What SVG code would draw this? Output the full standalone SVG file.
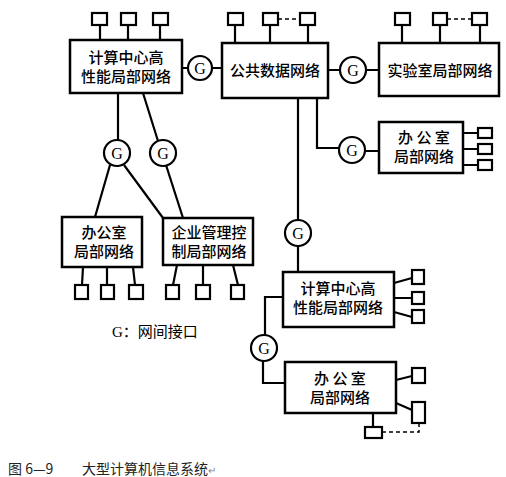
<svg xmlns="http://www.w3.org/2000/svg" width="506" height="477" viewBox="0 0 506 477">
<style>
.box{fill:#fff;stroke:#000;stroke-width:2.5}
.term{fill:#fff;stroke:#000;stroke-width:2.2}
.g{fill:#fff;stroke:#000;stroke-width:2.2}
.ln{fill:none;stroke:#000;stroke-width:2.2}
.dash{fill:none;stroke:#000;stroke-width:1.5;stroke-dasharray:4 3}
.t{font-family:"Noto Sans CJK SC","Noto Sans",sans-serif;font-size:15px;font-weight:500;fill:#000;text-anchor:middle}
.gt{font-family:"Liberation Serif",serif;font-size:16px;fill:#000;text-anchor:middle}
.cap{font-family:"Noto Sans CJK SC","Liberation Sans",sans-serif;font-size:14px;fill:#222}
</style>
<rect width="506" height="477" fill="#fff"/>
<g id="connectors">
<path class="ln" d="M100,25V40M128,25V40M160,25V40"/>
<path class="ln" d="M235,25V43M270,25V43M308,25V43"/>
<path class="dash" d="M278,19H300"/>
<path class="ln" d="M402,25V43M440,25V43M480,25V43"/>
<path class="dash" d="M447,19H472"/>
<path class="ln" d="M182,68H188M212,68H222M328,70H340M366,70H379"/>
<path class="ln" d="M118,93V140M143,93L158,141"/>
<path class="ln" d="M110,165L95,217M124,165L163,218"/>
<path class="ln" d="M166,165L183,218"/>
<path class="ln" d="M83,267L82,285M107,267V285M133,267L135,285M177,265L173,285M203,265V285M233,265L238,285"/>
<path class="ln" d="M298,98V220M298,246V272"/>
<path class="ln" d="M317,98V148H339M365,151H379"/>
<path class="ln" d="M463,133H478M463,149H478M463,165H478"/>
<path class="ln" d="M394,283L412,278M394,298H412M394,312L412,317"/>
<path class="ln" d="M283,297H265V335M263,361V383H285"/>
<path class="ln" d="M396,380L412,376M396,403L412,410M373,413V427"/>
<path class="dash" d="M419,423V432H382"/>
</g>
<g id="terminals">
<rect class="term" x="92" y="13" width="15" height="12"/>
<rect class="term" x="121" y="13" width="15" height="12"/>
<rect class="term" x="153" y="13" width="15" height="12"/>
<rect class="term" x="228" y="13" width="15" height="12"/>
<rect class="term" x="263" y="13" width="15" height="12"/>
<rect class="term" x="300" y="13" width="15" height="12"/>
<rect class="term" x="395" y="13" width="15" height="12"/>
<rect class="term" x="433" y="13" width="14" height="12"/>
<rect class="term" x="472" y="13" width="15" height="12"/>
<rect class="term" x="478" y="128" width="14" height="10"/>
<rect class="term" x="478" y="144" width="14" height="10"/>
<rect class="term" x="478" y="160" width="14" height="10"/>
<rect class="term" x="75" y="285" width="13" height="14"/>
<rect class="term" x="101" y="285" width="13" height="14"/>
<rect class="term" x="129" y="285" width="14" height="14"/>
<rect class="term" x="166" y="285" width="13" height="14"/>
<rect class="term" x="196" y="285" width="14" height="14"/>
<rect class="term" x="231" y="285" width="13" height="14"/>
<rect class="term" x="412" y="270" width="12" height="14"/>
<rect class="term" x="412" y="292" width="12" height="12"/>
<rect class="term" x="412" y="310" width="12" height="13"/>
<rect class="term" x="412" y="368" width="13" height="15"/>
<rect class="term" x="412" y="402" width="13" height="21"/>
<rect class="term" x="365" y="427" width="17" height="11"/>
</g>
<g id="n-topleft">
<rect class="box" x="70" y="40" width="112" height="53"/>
<text class="t" x="126" y="63">计算中心高</text>
<text class="t" x="126" y="82">性能局部网络</text>
</g>
<g id="n-public">
<rect class="box" x="222" y="43" width="106" height="55"/>
<text class="t" x="275" y="76">公共数据网络</text>
</g>
<g id="n-lab">
<rect class="box" x="379" y="43" width="120" height="53"/>
<text class="t" x="440" y="76">实验室局部网络</text>
</g>
<g id="n-office-right">
<rect class="box" x="379" y="122" width="84" height="51"/>
<text class="t" x="424" y="143">办 公 室</text>
<text class="t" x="424" y="162">局部网络</text>
</g>
<g id="n-office-left">
<rect class="box" x="62" y="217" width="80" height="50"/>
<text class="t" x="104" y="238">办公室</text>
<text class="t" x="104" y="257">局部网络</text>
</g>
<g id="n-enterprise">
<rect class="box" x="163" y="218" width="90" height="47"/>
<text class="t" x="209" y="238">企业管理控</text>
<text class="t" x="209" y="257">制局部网络</text>
</g>
<g id="n-cc-lower">
<rect class="box" x="283" y="272" width="111" height="55"/>
<text class="t" x="338" y="294">计算中心高</text>
<text class="t" x="338" y="313">性能局部网络</text>
</g>
<g id="n-office-lower">
<rect class="box" x="285" y="362" width="111" height="51"/>
<text class="t" x="340" y="384">办 公 室</text>
<text class="t" x="340" y="403">局部网络</text>
</g>
<g id="gateways">
<g id="g-top-left"><circle class="g" cx="200" cy="68" r="12"/><text class="gt" x="200" y="74">G</text></g>
<g id="g-top-right"><circle class="g" cx="353" cy="70" r="13"/><text class="gt" x="353" y="76">G</text></g>
<g id="g-office-right"><circle class="g" cx="352" cy="150" r="13"/><text class="gt" x="352" y="156">G</text></g>
<g id="g-left1"><circle class="g" cx="117" cy="153" r="13"/><text class="gt" x="117" y="159">G</text></g>
<g id="g-left2"><circle class="g" cx="163" cy="153" r="13"/><text class="gt" x="163" y="159">G</text></g>
<g id="g-mid"><circle class="g" cx="298" cy="233" r="13"/><text class="gt" x="298" y="239">G</text></g>
<g id="g-lower"><circle class="g" cx="264" cy="348" r="13"/><text class="gt" x="264" y="354">G</text></g>
</g>
<g id="legend">
<text x="112" y="337" font-family="Liberation Serif,'Noto Sans CJK SC',serif" font-size="15" fill="#000">G<tspan font-family="Noto Sans CJK SC,sans-serif">：网间接口</tspan></text>
</g>
<g id="caption">
<text class="cap" x="8" y="474">图 6—9</text>
<text class="cap" x="82" y="474">大型计算机信息系统<tspan font-size="10" fill="#888">↵</tspan></text>
</g>
</svg>
